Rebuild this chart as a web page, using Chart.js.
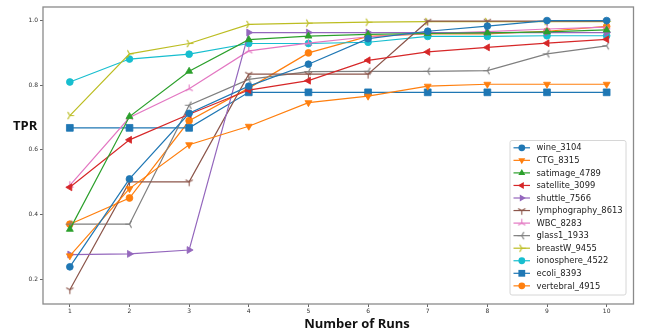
<!DOCTYPE html>
<html>
<head>
<meta charset="utf-8">
<script src="https://cdn.jsdelivr.net/npm/chart.js@4/dist/chart.umd.min.js"></script>
<style>
  body { margin: 0; background: #fff; }
  #wrap { width: 646px; height: 335px; position: relative; }
</style>
</head>
<body>
<div id="wrap"><canvas id="chart"></canvas></div>
<script>
// x categories (number of runs) and tick labels
const runs = [1, 2, 3, 4, 5, 6, 7, 8, 9, 10];
const yTicks = [0.2, 0.4, 0.6, 0.8, 1.0];

// TPR per dataset
const wine_3104 = [0.238, 0.510, 0.713, 0.797, 0.865, 0.944, 0.967, 0.983, 1.000, 1.000];
const CTG_8315 = [0.272, 0.480, 0.616, 0.673, 0.746, 0.766, 0.797, 0.803, 0.803, 0.803];
const satimage_4789 = [0.354, 0.703, 0.843, 0.941, 0.952, 0.957, 0.960, 0.962, 0.965, 0.971];
const satellite_3099 = [0.484, 0.631, 0.710, 0.785, 0.814, 0.877, 0.903, 0.917, 0.930, 0.942];
const shuttle_7566 = [0.276, 0.278, 0.290, 0.963, 0.963, 0.963, 0.963, 0.963, 0.963, 0.963];
const lymphography_8613 = [0.167, 0.501, 0.501, 0.834, 0.834, 0.834, 0.998, 0.998, 0.998, 0.998];
const WBC_8283 = [0.490, 0.700, 0.789, 0.906, 0.930, 0.950, 0.960, 0.966, 0.974, 0.980];
const glass1_1933 = [0.370, 0.370, 0.738, 0.818, 0.842, 0.843, 0.843, 0.845, 0.897, 0.922];
const breastW_9455 = [0.706, 0.897, 0.929, 0.988, 0.992, 0.995, 0.997, 0.997, 0.997, 0.997];
const ionosphere_4522 = [0.810, 0.881, 0.896, 0.929, 0.929, 0.933, 0.951, 0.951, 0.953, 0.953];
const ecoli_8393 = [0.668, 0.668, 0.668, 0.778, 0.778, 0.778, 0.778, 0.778, 0.778, 0.778];
const vertebral_4915 = [0.370, 0.451, 0.690, 0.791, 0.900, 0.951, 0.959, 0.959, 0.967, 0.982];

// little "tri" markers like matplotlib's 1/2/3/4
function triMarker(color, angles) {
    const c = document.createElement("canvas");
    c.width = 11; c.height = 11;
    const g = c.getContext("2d");
    g.strokeStyle = color;
    g.lineWidth = 1.1;
    g.beginPath();
    angles.forEach(a => {
        const r = a * Math.PI / 180;
        g.moveTo(5.5, 5.5);
        g.lineTo(5.5 + 4.2 * Math.cos(r), 5.5 + 4.2 * Math.sin(r));
    });
    g.stroke();
    return c;
}

const series = [
    { label: "wine_3104", data: wine_3104, color: "#1f77b4", style: "circle", rot: 0, r: 3.4 },
    { label: "CTG_8315", data: CTG_8315, color: "#ff7f0e", style: "triangle", rot: 180, r: 4 },
    { label: "satimage_4789", data: satimage_4789, color: "#2ca02c", style: "triangle", rot: 0, r: 4 },
    { label: "satellite_3099", data: satellite_3099, color: "#d62728", style: "triangle", rot: 270, r: 4 },
    { label: "shuttle_7566", data: shuttle_7566, color: "#9467bd", style: "triangle", rot: 90, r: 4 },
    { label: "lymphography_8613", data: lymphography_8613, color: "#8c564b", style: "tri", angles: [90, 210, 330] },
    { label: "WBC_8283", data: WBC_8283, color: "#e377c2", style: "tri", angles: [270, 30, 150] },
    { label: "glass1_1933", data: glass1_1933, color: "#7f7f7f", style: "tri", angles: [180, 300, 60] },
    { label: "breastW_9455", data: breastW_9455, color: "#bcbd22", style: "tri", angles: [0, 120, 240] },
    { label: "ionosphere_4522", data: ionosphere_4522, color: "#17becf", style: "circle", rot: 0, r: 3.4 },
    { label: "ecoli_8393", data: ecoli_8393, color: "#1f77b4", style: "rect", rot: 0, r: 4.8 },
    { label: "vertebral_4915", data: vertebral_4915, color: "#ff7f0e", style: "circle", rot: 0, r: 3.4 }
];

series.forEach(s => {
    if (s.style === "tri") {
        s.img = triMarker(s.color, s.angles);
    }
});

const datasets = series.map(s => ({
    label: s.label,
    data: runs.map((x, i) => ({ x: x, y: s.data[i] })),
    borderColor: s.color,
    backgroundColor: s.color,
    borderWidth: 1.2,
    pointStyle: s.img ? s.img : s.style,
    pointRotation: s.rot || 0,
    pointRadius: s.r || 4,
    pointBorderWidth: 0.8,
    pointBorderColor: s.color,
    pointBackgroundColor: s.color,
    tension: 0
}));

function drawMarker(ctx, s, x, y) {
    if (s.img) {
        ctx.drawImage(s.img, x - s.img.width / 2, y - s.img.height / 2);
        return;
    }
    ctx.save();
    ctx.fillStyle = s.color;
    ctx.translate(x, y);
    ctx.rotate((s.rot || 0) * Math.PI / 180);
    ctx.beginPath();
    const r = s.r;
    if (s.style === "circle") {
        ctx.arc(0, 0, r, 0, Math.PI * 2);
    } else if (s.style === "rect") {
        const h = r * Math.SQRT1_2;
        ctx.rect(-h, -h, 2 * h, 2 * h);
    } else {
        ctx.moveTo(0, -r);
        ctx.lineTo(r * Math.sin(Math.PI / 3 * 2), r * 0.5);
        ctx.lineTo(-r * Math.sin(Math.PI / 3 * 2), r * 0.5);
        ctx.closePath();
    }
    ctx.fill();
    ctx.restore();
}

// frame, titles and the legend inside the plot
const decorations = {
    id: "decorations",
    afterDatasetsDraw(chart) {
        const ctx = chart.ctx;
        const a = chart.chartArea;
        ctx.save();
        ctx.strokeStyle = "#8a8a8a";
        ctx.lineWidth = 1.3;
        ctx.strokeRect(a.left, a.top, a.right - a.left, a.bottom - a.top);

        // legend box
        const lx = 510, ly = 140.5, lw = 116, lh = 154.5;
        ctx.fillStyle = "rgba(255,255,255,0.9)";
        ctx.strokeStyle = "#d6d6d6";
        ctx.lineWidth = 1;
        ctx.beginPath();
        ctx.roundRect(lx, ly, lw, lh, 2);
        ctx.fill();
        ctx.stroke();

        ctx.font = "8.4px 'DejaVu Sans'";
        ctx.textBaseline = "middle";
        ctx.textAlign = "left";
        series.forEach((s, i) => {
            const y = 147.8 + i * 12.55;
            ctx.strokeStyle = s.color;
            ctx.lineWidth = 1.2;
            ctx.beginPath();
            ctx.moveTo(513.5, y);
            ctx.lineTo(530, y);
            ctx.stroke();
            drawMarker(ctx, s, 521.8, y);
            ctx.fillStyle = "#222";
            ctx.fillText(s.label, 536.5, y + 0.5);
        });

        // axis titles
        ctx.fillStyle = "#111";
        ctx.font = "bold 13px 'Open Sans'";
        ctx.textAlign = "left";
        ctx.fillText("TPR", 13, 126);
        ctx.textAlign = "center";
        ctx.fillText("Number of Runs", 357, 324);
        ctx.restore();
    }
};

new Chart(document.getElementById("chart"), {
    type: "line",
    data: { datasets: datasets },
    options: {
        responsive: true,
        maintainAspectRatio: false,
        animation: false,
        layout: { padding: { top: 7, right: 12.5, left: 0, bottom: 0 } },
        plugins: {
            legend: { display: false },
            tooltip: { enabled: false }
        },
        scales: {
            x: {
                type: "linear",
                min: 0.55,
                max: 10.45,
                afterBuildTicks: scale => { scale.ticks = runs.map(v => ({ value: v })); },
                afterFit: scale => { scale.height = 31; },
                ticks: {
                    color: "#333",
                    font: { size: 6, family: "DejaVu Sans" },
                    padding: 1,
                    maxRotation: 0,
                    callback: v => String(v)
                },
                grid: { drawOnChartArea: false, tickLength: 3, color: "#666" },
                border: { display: false }
            },
            y: {
                min: 0.123,
                max: 1.042,
                afterBuildTicks: scale => { scale.ticks = yTicks.map(v => ({ value: v })); },
                afterFit: scale => { scale.width = 43; },
                ticks: {
                    color: "#333",
                    font: { size: 6, family: "DejaVu Sans" },
                    padding: 2,
                    callback: v => v.toFixed(1)
                },
                grid: { drawOnChartArea: false, tickLength: 3, color: "#666" },
                border: { display: false }
            }
        }
    },
    plugins: [decorations]
});
</script>
</body>
</html>
